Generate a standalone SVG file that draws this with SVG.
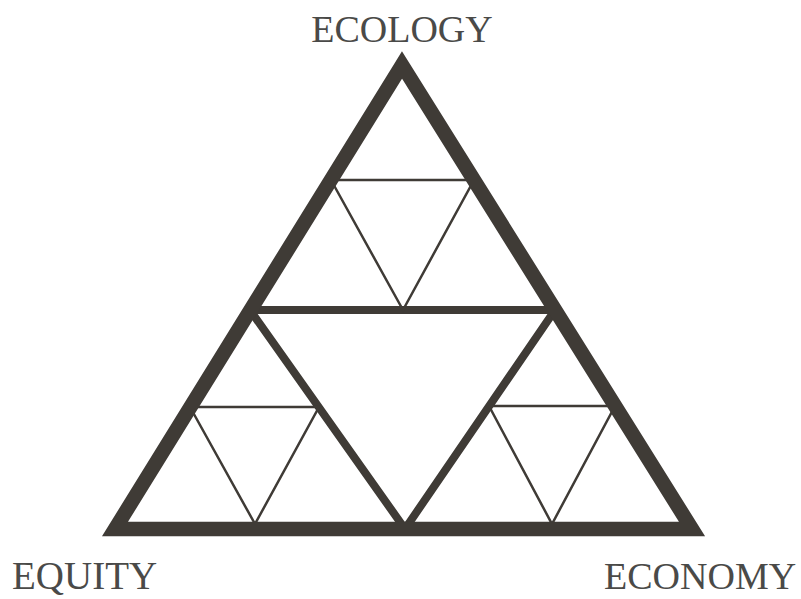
<svg xmlns="http://www.w3.org/2000/svg" width="801" height="599" viewBox="0 0 801 599">
<style>
.lbl{font-family:"Liberation Serif","Times New Roman",serif;fill:#4a4a48;}
.thick{fill:none;stroke:#3f3b36;stroke-width:14.5;stroke-linejoin:miter;stroke-miterlimit:10;}
.mid{fill:none;stroke:#3f3b36;stroke-width:8;stroke-linejoin:miter;}
.thin{fill:none;stroke:#3f3b36;stroke-width:2.5;}
</style>
<defs>
<clipPath id="inside"><polygon points="402,65 115,529 692,529"/></clipPath>
</defs>
<rect width="801" height="599" fill="#ffffff"/>
<g id="connectors">
<g clip-path="url(#inside)">
<polygon id="middle" class="mid" points="250,310 555,310 405,529"/>
<polyline id="small-top" class="thin" points="331,180 474,180 403,310 331,180"/>
<polyline id="small-left" class="thin" points="190,407 319,407 255,524 190,407"/>
<polyline id="small-right" class="thin" points="489,406 615,406 552,524 489,406"/>
</g>
<polygon id="outer" class="thick" points="402,65 115,529 692,529"/>
</g>
<g id="ecology"><text class="lbl" x="402" y="42" font-size="38" text-anchor="middle">ECOLOGY</text></g>
<g id="equity"><text class="lbl" x="12" y="589" font-size="39">EQUITY</text></g>
<g id="economy"><text class="lbl" x="604" y="589" font-size="38">ECONOMY</text></g>
</svg>
